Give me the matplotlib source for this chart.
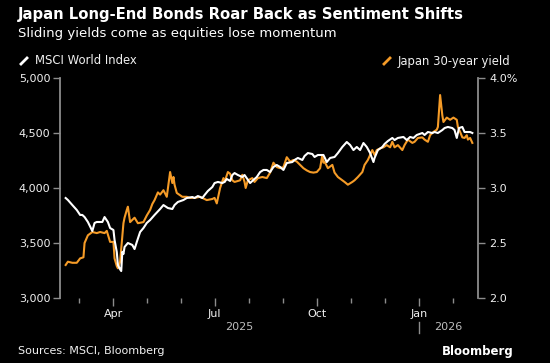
import matplotlib
matplotlib.use("Agg")
import matplotlib.pyplot as plt
import matplotlib.dates as mdates
import matplotlib.transforms as mtransforms
from matplotlib.lines import Line2D
from matplotlib.ticker import FuncFormatter, FixedLocator
import pandas as pd

# ------------------------------------------------------------
# DATA
# ------------------------------------------------------------
msci_dates = [
    "2025-02-17", "2025-02-19", "2025-02-23", "2025-02-27", "2025-03-02", "2025-03-04",
    "2025-03-06", "2025-03-09", "2025-03-13", "2025-03-15", "2025-03-17", "2025-03-22",
    "2025-03-24", "2025-03-27", "2025-03-29", "2025-04-01", "2025-04-02", "2025-04-04",
    "2025-04-05", "2025-04-07", "2025-04-08", "2025-04-09", "2025-04-10", "2025-04-11",
    "2025-04-14", "2025-04-18", "2025-04-20", "2025-04-22", "2025-04-25", "2025-04-28",
    "2025-05-01", "2025-05-04", "2025-05-08", "2025-05-13", "2025-05-16", "2025-05-20",
    "2025-05-24", "2025-05-26", "2025-05-29", "2025-06-03", "2025-06-06", "2025-06-11",
    "2025-06-13", "2025-06-16", "2025-06-20", "2025-06-22", "2025-06-25", "2025-06-29",
    "2025-07-01", "2025-07-04", "2025-07-08", "2025-07-10", "2025-07-12", "2025-07-15",
    "2025-07-17", "2025-07-19", "2025-07-22", "2025-07-26", "2025-07-28", "2025-08-02",
    "2025-08-05", "2025-08-08", "2025-08-11", "2025-08-14", "2025-08-17", "2025-08-20",
    "2025-08-23", "2025-08-26", "2025-08-29", "2025-09-01", "2025-09-04", "2025-09-09",
    "2025-09-11", "2025-09-14", "2025-09-18", "2025-09-20", "2025-09-23", "2025-09-27",
    "2025-09-29", "2025-10-02", "2025-10-07", "2025-10-10", "2025-10-13", "2025-10-17",
    "2025-10-20", "2025-10-24", "2025-10-28", "2025-10-31", "2025-11-03", "2025-11-06",
    "2025-11-09", "2025-11-12", "2025-11-15", "2025-11-18", "2025-11-21", "2025-11-22",
    "2025-11-25", "2025-11-29", "2025-12-01", "2025-12-04", "2025-12-08", "2025-12-10",
    "2025-12-13", "2025-12-18", "2025-12-21", "2025-12-24", "2025-12-27", "2025-12-30",
    "2026-01-04", "2026-01-06", "2026-01-09", "2026-01-13", "2026-01-15", "2026-01-18",
    "2026-01-22", "2026-01-24", "2026-01-27", "2026-01-31", "2026-02-02", "2026-02-04",
    "2026-02-06", "2026-02-09", "2026-02-11", "2026-02-16", "2026-02-18",
]
msci_values = [
    3909, 3891, 3845, 3800, 3755, 3755,
    3736, 3691, 3609, 3682, 3691, 3691,
    3736, 3691, 3636, 3618, 3527, 3418,
    3300, 3260, 3245, 3420, 3400, 3464,
    3500, 3482, 3445, 3509, 3600, 3636,
    3682, 3709, 3755, 3809, 3845, 3818,
    3809, 3845, 3873, 3891, 3909, 3918,
    3909, 3927, 3909, 3936, 3973, 4009,
    4045, 4055, 4045, 4055, 4082, 4064,
    4118, 4136, 4118, 4100, 4118, 4045,
    4073, 4100, 4145, 4164, 4164, 4145,
    4191, 4209, 4191, 4164, 4227, 4236,
    4255, 4273, 4255, 4291, 4318, 4309,
    4282, 4300, 4300, 4236, 4273, 4282,
    4318, 4373, 4418, 4391, 4345, 4373,
    4345, 4409, 4373, 4318, 4236, 4273,
    4345, 4373, 4400, 4427, 4455, 4436,
    4455, 4464, 4436, 4464, 4455, 4482,
    4500, 4482, 4509, 4500, 4509, 4500,
    4527, 4545, 4555, 4545, 4527, 4455,
    4545, 4555, 4509, 4509, 4500,
]

jgb_dates = [
    "2025-02-17", "2025-02-19", "2025-02-23", "2025-02-27", "2025-03-02", "2025-03-05",
    "2025-03-06", "2025-03-09", "2025-03-13", "2025-03-17", "2025-03-20", "2025-03-24",
    "2025-03-26", "2025-03-29", "2025-04-01", "2025-04-02", "2025-04-04", "2025-04-05",
    "2025-04-07", "2025-04-08", "2025-04-10", "2025-04-11", "2025-04-13", "2025-04-14",
    "2025-04-16", "2025-04-18", "2025-04-20", "2025-04-23", "2025-04-28", "2025-05-01",
    "2025-05-04", "2025-05-06", "2025-05-08", "2025-05-11", "2025-05-13", "2025-05-16",
    "2025-05-19", "2025-05-22", "2025-05-24", "2025-05-25", "2025-05-26", "2025-05-28",
    "2025-06-02", "2025-06-06", "2025-06-09", "2025-06-13", "2025-06-18", "2025-06-24",
    "2025-06-29", "2025-07-01", "2025-07-03", "2025-07-06", "2025-07-09", "2025-07-10",
    "2025-07-13", "2025-07-15", "2025-07-17", "2025-07-19", "2025-07-24", "2025-07-26",
    "2025-07-28", "2025-07-29", "2025-07-31", "2025-08-04", "2025-08-06", "2025-08-09",
    "2025-08-13", "2025-08-17", "2025-08-20", "2025-08-23", "2025-08-26", "2025-08-29",
    "2025-09-01", "2025-09-04", "2025-09-07", "2025-09-10", "2025-09-13", "2025-09-16",
    "2025-09-19", "2025-09-22", "2025-09-25", "2025-09-28", "2025-10-01", "2025-10-04",
    "2025-10-06", "2025-10-07", "2025-10-08", "2025-10-11", "2025-10-15", "2025-10-17",
    "2025-10-20", "2025-10-24", "2025-10-26", "2025-10-29", "2025-11-02", "2025-11-04",
    "2025-11-07", "2025-11-11", "2025-11-13", "2025-11-16", "2025-11-20", "2025-11-22",
    "2025-11-24", "2025-11-27", "2025-11-30", "2025-12-03", "2025-12-06", "2025-12-08",
    "2025-12-10", "2025-12-13", "2025-12-17", "2025-12-19", "2025-12-22", "2025-12-26",
    "2025-12-28", "2025-12-31", "2026-01-04", "2026-01-06", "2026-01-09", "2026-01-11",
    "2026-01-14", "2026-01-17", "2026-01-18", "2026-01-20", "2026-01-22", "2026-01-23",
    "2026-01-26", "2026-01-29", "2026-02-01", "2026-02-04", "2026-02-05", "2026-02-07",
    "2026-02-09", "2026-02-11", "2026-02-13", "2026-02-14", "2026-02-16", "2026-02-18",
]
jgb_yields = [
    2.30, 2.33, 2.32, 2.32, 2.36, 2.37,
    2.50, 2.57, 2.60, 2.59, 2.60, 2.59,
    2.61, 2.51, 2.51, 2.36, 2.29, 2.27,
    2.33, 2.45, 2.68, 2.73, 2.80, 2.83,
    2.69, 2.71, 2.73, 2.68, 2.69, 2.75,
    2.80, 2.855, 2.89, 2.96, 2.94, 2.98,
    2.92, 3.145, 3.045, 3.10, 3.03, 2.955,
    2.92, 2.92, 2.91, 2.91, 2.92, 2.89,
    2.90, 2.91, 2.86, 3.00, 3.09, 3.055,
    3.145, 3.13, 3.07, 3.055, 3.07, 3.12,
    3.055, 3.00, 3.07, 3.09, 3.055, 3.09,
    3.10, 3.09, 3.14, 3.23, 3.19, 3.18,
    3.19, 3.28, 3.24, 3.255, 3.24, 3.21,
    3.18, 3.16, 3.145, 3.14, 3.145, 3.18,
    3.30, 3.23, 3.24, 3.18, 3.21, 3.14,
    3.10, 3.07, 3.055, 3.03, 3.055, 3.07,
    3.10, 3.145, 3.21, 3.255, 3.345, 3.30,
    3.345, 3.36, 3.37, 3.39, 3.37, 3.42,
    3.37, 3.39, 3.345, 3.39, 3.44, 3.41,
    3.42, 3.455, 3.46, 3.44, 3.42, 3.48,
    3.51, 3.53, 3.555, 3.845, 3.66, 3.60,
    3.64, 3.62, 3.64, 3.62, 3.555, 3.51,
    3.46, 3.455, 3.48, 3.44, 3.455, 3.41,
]

left_ticks = [3000, 3500, 4000, 4500, 5000]
right_ticks = [2.0, 2.5, 3.0, 3.5, 4.0]
right_labels = ["2.0", "2.5", "3.0", "3.5", "4.0%"]

TITLE = "Japan Long-End Bonds Roar Back as Sentiment Shifts"
SUBTITLE = "Sliding yields come as equities lose momentum"

# ------------------------------------------------------------
# STYLE
# ------------------------------------------------------------
BG = "black"
WHITE = "white"
ORANGE = "#f59b27"
AXIS_GREY = "#8c8c8c"
TEXT = "#f0f0f0"
plt.rcParams["font.family"] = ["DejaVu Sans"]

W, H = 550, 363
fig = plt.figure(figsize=(W / 100, H / 100), dpi=100, facecolor=BG)
ax = fig.add_axes([60 / W, 1 - 298 / H, (478 - 60) / W, (298 - 78) / H])
ax2 = ax.twinx()

msci_x = pd.to_datetime(msci_dates)
jgb_x = pd.to_datetime(jgb_dates)

ax2.plot(jgb_x, jgb_yields, color=ORANGE, lw=1.5, solid_joinstyle="round")
ax.plot(msci_x, msci_values, color=WHITE, lw=1.5, solid_joinstyle="round")

# white line drawn above the orange one
ax.set_zorder(ax2.get_zorder() + 1)
ax.patch.set_visible(False)
ax2.patch.set_facecolor(BG)

x0 = pd.Timestamp("2025-03-01")
ax.set_xlim(x0 - pd.Timedelta(days=17.1), x0 + pd.Timedelta(days=359.1))
ax.set_ylim(3000, 5000)
ax2.set_ylim(2.0, 4.0)

for a in (ax, ax2):
    for s in a.spines.values():
        s.set_visible(False)
ax.spines["left"].set_visible(True)
ax.spines["left"].set_color(AXIS_GREY)
ax.spines["left"].set_linewidth(1.3)
ax2.spines["right"].set_visible(True)
ax2.spines["right"].set_color(AXIS_GREY)
ax2.spines["right"].set_linewidth(1.3)

ax.yaxis.set_major_locator(FixedLocator(left_ticks))
ax.yaxis.set_major_formatter(FuncFormatter(lambda v, p: f"{v:,.0f}"))
ax.tick_params(axis="y", colors=AXIS_GREY, labelcolor=TEXT, labelsize=8,
               length=5, width=1, pad=2)
ax2.set_yticks(right_ticks)
ax2.set_yticklabels(right_labels)
ax2.tick_params(axis="y", colors=AXIS_GREY, labelcolor=TEXT, labelsize=8,
                length=5, width=1, pad=3)

ax.xaxis.set_major_locator(mdates.MonthLocator(bymonth=[1, 4, 7, 10]))
ax.xaxis.set_minor_locator(mdates.MonthLocator())
ax.xaxis.set_major_formatter(mdates.DateFormatter("%b"))
ax.tick_params(axis="x", which="major", colors=AXIS_GREY, labelcolor=TEXT,
               labelsize=8, length=6, width=1, pad=2)
ax.tick_params(axis="x", which="minor", colors=AXIS_GREY, length=3.5, width=1)

# year labels under the month labels
trans = mtransforms.blended_transform_factory(ax.transData, ax.transAxes)
jan26 = pd.Timestamp("2026-01-01")
xlo, xhi = [mdates.num2date(v).replace(tzinfo=None) for v in ax.get_xlim()]
ax.text(xlo + (jan26 - xlo) / 2, -0.13, "2025", transform=trans, color="#bdbdbd",
        fontsize=8, ha="center", va="center")
ax.text(jan26 + (xhi - jan26) / 2, -0.13, "2026", transform=trans, color="#bdbdbd",
        fontsize=8, ha="center", va="center")
ax.add_line(Line2D([jan26, jan26], [-0.107, -0.16], transform=trans,
                   color=AXIS_GREY, lw=1, clip_on=False))

# titles
fig.text(18 / W, 1 - 15 / H, TITLE, color=WHITE, fontsize=10.7,
         fontweight="bold", va="center", ha="left")
fig.text(18 / W, 1 - 34 / H, SUBTITLE, color=WHITE, fontsize=9.5,
         va="center", ha="left")

# legend
fig.add_artist(Line2D([21 / W, 27 / W], [1 - 64 / H, 1 - 58 / H], color=WHITE,
                      lw=2, transform=fig.transFigure))
fig.text(35 / W, 1 - 61 / H, "MSCI World Index", color=TEXT, fontsize=8.4,
         va="center", ha="left")
fig.add_artist(Line2D([384 / W, 390 / W], [1 - 64 / H, 1 - 58 / H], color=ORANGE,
                      lw=2, transform=fig.transFigure))
fig.text(398 / W, 1 - 61 / H, "Japan 30-year yield", color=TEXT, fontsize=8.4,
         va="center", ha="left")

# footer
fig.text(18 / W, 1 - 351 / H, "Sources: MSCI, Bloomberg", color=TEXT, fontsize=8,
         va="center", ha="left")
fig.text(514 / W, 1 - 351 / H, "Bloomberg", color=WHITE, fontsize=8.5,
         fontweight="bold", va="center", ha="right")

fig.savefig("out.png", dpi=100, facecolor=BG)
